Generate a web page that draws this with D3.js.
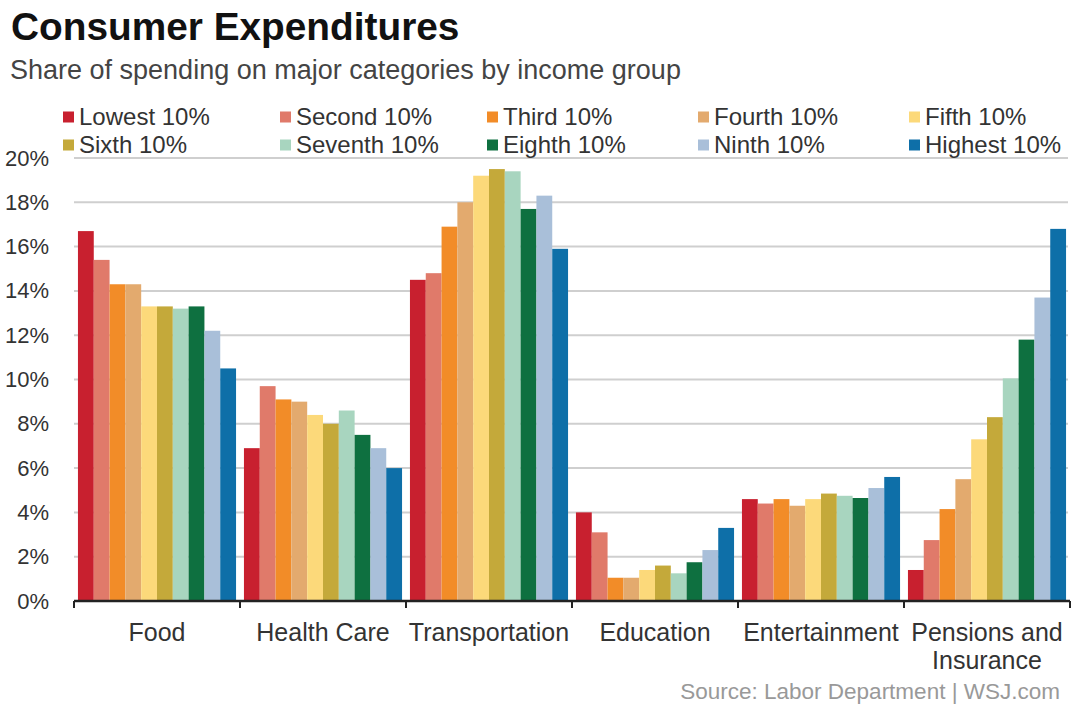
<!DOCTYPE html>
<html>
<head>
<meta charset="utf-8">
<script src="https://cdn.jsdelivr.net/npm/d3@7"></script>
<style>
  html, body { margin: 0; padding: 0; background: #fff; }
  svg { display: block; }
  text { font-family: "Liberation Sans", Arial, Helvetica, sans-serif; }
</style>
</head>
<body>
<svg id="chart" width="1073" height="705"></svg>
<script>
// ---- Data ----
const categories = ["Food", "Health Care", "Transportation", "Education", "Entertainment", "Pensions and Insurance"];
const categoryLines = [["Food"], ["Health Care"], ["Transportation"], ["Education"], ["Entertainment"], ["Pensions and", "Insurance"]];
const seriesNames = ["Lowest 10%", "Second 10%", "Third 10%", "Fourth 10%", "Fifth 10%",
                     "Sixth 10%", "Seventh 10%", "Eighth 10%", "Ninth 10%", "Highest 10%"];
const seriesColors = ["#c8202f", "#e07a6a", "#f28c28", "#e3aa6e", "#fcd97a",
                      "#c4a93a", "#a8d5bf", "#0e7040", "#a9bfd9", "#0e6fa8"];
// values per category, ordered by income group (lowest -> highest), in percent
const food           = [16.7, 15.4, 14.3, 14.3, 13.3, 13.3, 13.2, 13.3, 12.2, 10.5];
const healthCare     = [6.9, 9.7, 9.1, 9.0, 8.4, 8.0, 8.6, 7.5, 6.9, 6.0];
const transportation = [14.5, 14.8, 16.9, 18.0, 19.2, 19.5, 19.4, 17.7, 18.3, 15.9];
const education      = [4.0, 3.1, 1.05, 1.05, 1.4, 1.6, 1.25, 1.75, 2.3, 3.3];
const entertainment  = [4.6, 4.4, 4.6, 4.3, 4.6, 4.85, 4.75, 4.65, 5.1, 5.6];
const pensions       = [1.4, 2.75, 4.15, 5.5, 7.3, 8.3, 10.05, 11.8, 13.7, 16.8];
const valuesByCategory = [food, healthCare, transportation, education, entertainment, pensions];
const yTicks = [0, 2, 4, 6, 8, 10, 12, 14, 16, 18, 20];

// ---- Chart ----
const svg = d3.select("#chart");
const plotLeft = 74, plotRight = 1070, plotTop = 158, plotBottom = 601;

const x0 = d3.scaleBand().domain(categories).range([plotLeft, plotRight]).padding(0);
const x1 = d3.scaleBand().domain(seriesNames).range([0, x0.bandwidth()]).paddingInner(0).paddingOuter(0.25);
const y = d3.scaleLinear().domain([0, 20]).range([plotBottom, plotTop]);
const color = d3.scaleOrdinal().domain(seriesNames).range(seriesColors);

// Title
svg.append("text").attr("x", 11).attr("y", 40)
  .style("font-size", "38.8px").style("font-weight", "bold").attr("fill", "#111")
  .text("Consumer Expenditures");
svg.append("text").attr("x", 10).attr("y", 79)
  .style("font-size", "27px").attr("fill", "#444")
  .text("Share of spending on major categories by income group");

// Gridlines
svg.append("g").selectAll("line").data(yTicks.filter(d => d > 0)).join("line")
  .attr("x1", plotLeft).attr("x2", plotRight - 2)
  .attr("y1", d => y(d)).attr("y2", d => y(d))
  .attr("stroke", "#cfcfcf").attr("stroke-width", 2);

// Y axis labels
const yAxis = d3.axisLeft(y).tickValues(yTicks).tickFormat(d => d + "%").tickSize(0).tickPadding(0);
const yg = svg.append("g").attr("transform", `translate(${49},0)`).call(yAxis);
yg.select(".domain").remove();
yg.selectAll("text").style("font-size", "22px").attr("fill", "#333")
  .style("font-family", '"Liberation Sans", Arial, sans-serif');

// Legend
const legendCols = [63, 280, 487, 698, 909];
const legendRows = [117, 145];
const lg = svg.append("g").selectAll("g").data(seriesNames).join("g")
  .attr("transform", (d, i) => `translate(${legendCols[i % 5]},${legendRows[Math.floor(i / 5)]})`);
lg.append("rect").attr("x", 0).attr("y", -5.5).attr("width", 11).attr("height", 11)
  .attr("fill", d => color(d));
lg.append("text").attr("x", 16).attr("y", 0).attr("dy", "0.35em")
  .style("font-size", "24px").attr("fill", "#333").text(d => d);

// Bars
const groups = svg.append("g").selectAll("g").data(categories).join("g")
  .attr("transform", d => `translate(${x0(d)},0)`);
groups.selectAll("rect").data((d, i) => valuesByCategory[i].map((v, j) => ({ s: seriesNames[j], v })))
  .join("rect")
  .attr("x", d => x1(d.s))
  .attr("width", x1.bandwidth())
  .attr("y", d => y(d.v))
  .attr("height", d => y(0) - y(d.v))
  .attr("fill", d => color(d.s));

// X axis line and boundary ticks
const bounds = categories.map(c => x0(c)).concat([plotRight]);
svg.append("line").attr("x1", plotLeft).attr("x2", plotRight).attr("y1", plotBottom).attr("y2", plotBottom)
  .attr("stroke", "#222").attr("stroke-width", 2.5);
svg.append("g").selectAll("line").data(bounds).join("line")
  .attr("x1", d => d).attr("x2", d => d).attr("y1", plotBottom).attr("y2", plotBottom + 7)
  .attr("stroke", "#222").attr("stroke-width", 2);

// Category labels
const cl = svg.append("g").selectAll("text").data(categories).join("text")
  .attr("x", d => x0(d) + x0.bandwidth() / 2).attr("y", 641)
  .attr("text-anchor", "middle").style("font-size", "25px").attr("fill", "#333");
cl.selectAll("tspan").data((d, i) => categoryLines[i]).join("tspan")
  .attr("x", function () { return d3.select(this.parentNode).attr("x"); })
  .attr("dy", (d, i) => i === 0 ? 0 : 28).text(d => d);

// Source
svg.append("text").attr("x", 1060).attr("y", 699).attr("text-anchor", "end")
  .style("font-size", "22.5px").attr("fill", "#999")
  .text("Source: Labor Department  |  WSJ.com");
</script>
</body>
</html>
